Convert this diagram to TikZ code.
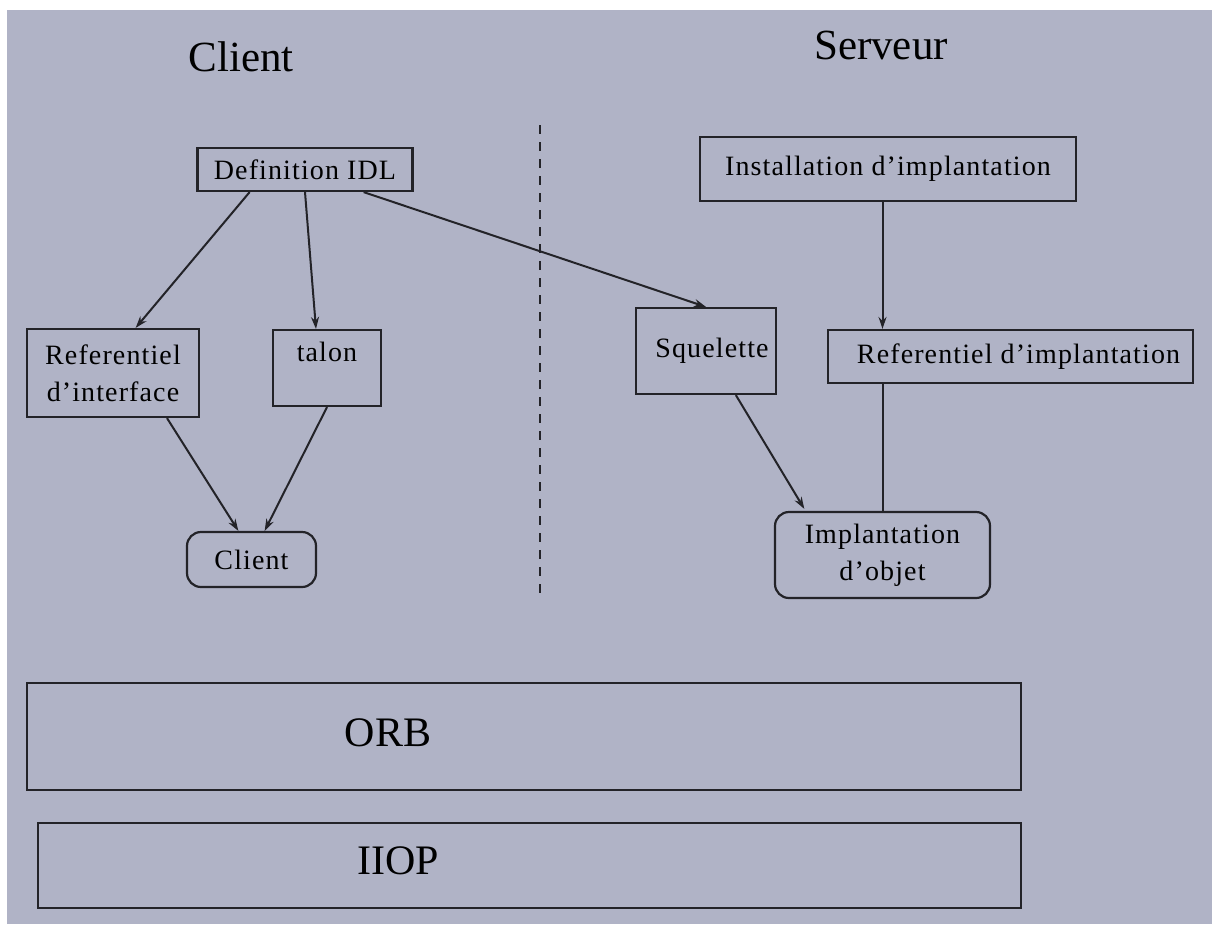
\documentclass[tikz,border=0pt]{standalone}
\usepackage{fontspec}
\setmainfont{Liberation Serif}
\newfontfamily\boxfont[LetterSpace=4]{Liberation Serif}
\usetikzlibrary{arrows.meta,calc}
\definecolor{panel}{RGB}{176,179,198}
\definecolor{ink}{RGB}{35,35,40}
\tikzset{
  box/.style={draw=ink, line width=2.2pt, rectangle, inner sep=0pt,
    font=\boxfont\fontsize{28}{37}\selectfont, align=center, text=black},
  rbox/.style={box, rounded corners=14pt},
  title/.style={font=\fontsize{43}{50}\selectfont, text=black, inner sep=0pt},
  layer/.style={font=\fontsize{42}{48}\selectfont, text=black, inner sep=0pt},
  link/.style={draw=ink, line width=2pt},
  arr/.style={link, -{Stealth[length=12pt,width=8pt]}}
}
\begin{document}
\begin{tikzpicture}[x=1pt,y=-1pt]
  % page and panel
  \useasboundingbox[fill=white] (0,0) rectangle (1212,924);
  \fill[panel] (7,10) rectangle (1212,924);

  % section titles
  \node[title] (tclient) at (241,57) {Client};
  \node[title] (tserveur) at (881,45) {Serveur};

  % separator between client and server sides
  \coordinate (septop) at (540,125);
  \coordinate (sepbot) at (540,597);
  \draw[ink, line width=1.8pt, dash pattern=on 9pt off 8pt] (septop) -- (sepbot);

  % client side
  \node[box, minimum width=215pt, minimum height=43pt] (def) at (305,169.5) {Definition IDL};
  \node[box, minimum width=172pt, minimum height=88pt] (refi) at (113,373) {Referentiel\\d’interface};
  \node[box, minimum width=108pt, minimum height=76pt] (talon) at (327,368) {talon\\[-16pt]\strut};
  \node[rbox, minimum width=129pt, minimum height=55pt] (client) at (251.5,559.5) {Client};

  % server side
  \node[box, minimum width=376pt, minimum height=64pt] (inst) at (888,169) {Installation d’implantation};
  \node[box, minimum width=140pt, minimum height=86pt] (sq) at (706,351) {\hspace{12pt}Squelette};
  \node[box, minimum width=365pt, minimum height=53pt] (refimpl) at (1010.5,356.5) {\hspace{16pt}Referentiel d’implantation};
  \node[rbox, minimum width=215pt, minimum height=86pt] (impl) at (882.5,555) {Implantation\\d’objet};

  % ORB and IIOP layers
  \node[draw=ink, line width=2.2pt, minimum width=994pt, minimum height=107pt, inner sep=0pt] (orb) at (524,736.5) {};
  \node[layer] (orbtxt) at (388,733) {ORB};
  \node[draw=ink, line width=2.2pt, minimum width=983pt, minimum height=85pt, inner sep=0pt] (iiop) at (529.5,865.5) {};
  \node[layer] (iioptxt) at (398,861) {IIOP};

  % connectors
  \draw[arr] ($(def.south west)!0.245!(def.south east)$) -- ($(refi.north west)!0.63!(refi.north east)$);
  \draw[arr] (def.south) -- ($(talon.north west)!0.4!(talon.north east)$);
  \draw[arr] ($(def.south west)!0.77!(def.south east)$) -- (sq.north);
  \draw[arr] ($(refi.south west)!0.81!(refi.south east)$) -- ($(client.north west)!0.40!(client.north east)$);
  \draw[arr] (talon.south) -- ($(client.north west)!0.6!(client.north east)$);
  \draw[arr] (impl.north |- inst.south) -- (impl.north |- refimpl.north);
  \draw[arr] ($(sq.south west)!0.71!(sq.south east)$) -- ($(impl.north west)!0.14!(impl.north east)+(0,-2)$);
  \draw[link] (impl.north |- refimpl.south) -- (impl.north);
\end{tikzpicture}
\end{document}
